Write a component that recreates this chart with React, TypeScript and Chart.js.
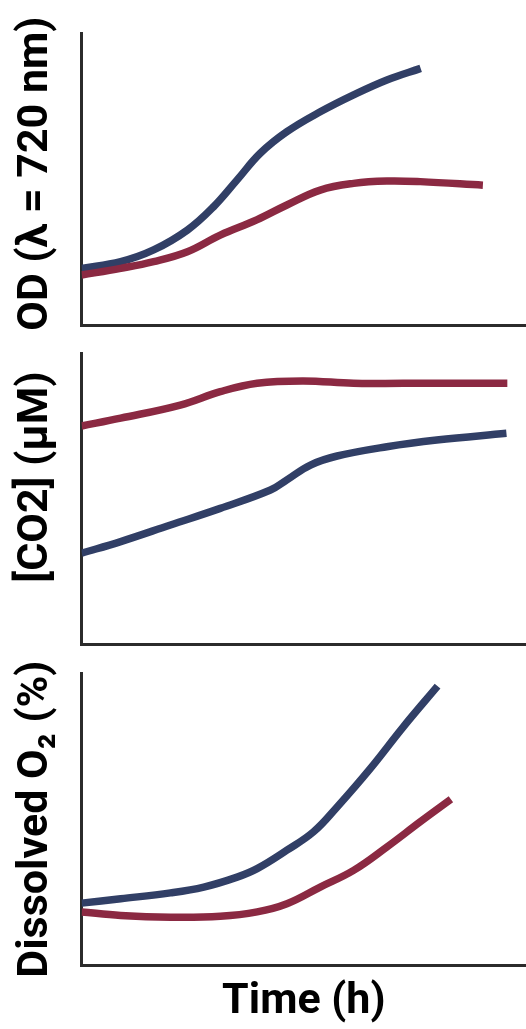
import React, { useEffect, useRef } from "react";
import { Chart, registerables } from "chart.js";

Chart.register(...registerables);

const BLUE = "#313f66";
const RED = "#8b2942";
const AXIS = "#2b2b2b";

// Panel 1: OD
const odBlueT = [0, 8.8, 16.2, 23.8, 29.7, 35.0, 40.2, 46.2, 53.7, 61.2, 68.7, 76.3];
const odBlueV = [19.4, 21.7, 25.7, 32.5, 40.5, 49.7, 58.8, 66.2, 73.0, 78.8, 83.9, 87.9];
const odRedT = [0, 8.8, 16.2, 23.8, 31.2, 39.4, 46.2, 53.7, 61.2, 68.7, 76.2, 90.3];
const odRedV = [17.1, 19.4, 21.7, 25.1, 30.8, 36.0, 41.1, 46.2, 48.5, 49.3, 49.1, 47.9];

// Panel 2: CO2
const co2RedT = [0, 8.8, 22.2, 31.2, 39.5, 49.9, 61.2, 72.4, 95.8];
const co2RedV = [74.9, 77.6, 82.1, 86.7, 89.6, 90.4, 89.6, 89.6, 89.6];
const co2BlueT = [0, 8.8, 20.0, 31.2, 42.5, 46.2, 51.5, 57.5, 68.7, 79.9, 95.6];
const co2BlueV = [31.2, 35.2, 40.9, 46.6, 52.9, 56.4, 61.5, 64.6, 67.8, 70.1, 72.4];

// Panel 3: Dissolved O2
const o2BlueT = [0, 8.8, 20.0, 27.5, 35.0, 39.5, 46.2, 52.2, 57.5, 65.0, 72.4, 80.1];
const o2BlueV = [21.3, 22.8, 24.8, 26.8, 30.2, 33.1, 39.4, 45.7, 54.2, 67.4, 81.6, 95.5];
const o2RedT = [0, 8.8, 20.0, 31.2, 39.5, 46.2, 53.7, 61.2, 68.7, 76.2, 83.1];
const o2RedV = [18.3, 17.1, 16.5, 16.8, 18.3, 21.1, 26.8, 32.5, 40.5, 49.1, 56.8];

const yTitles = [" OD (λ = 720 nm)", "    [CO2] (μM)", "Dissolved O₂ (%)"];
const xTitle = "Time (h)";

const pts = (t: number[], v: number[]) => t.map((x, i) => ({ x, y: v[i] }));

type PanelProps = {
  top: number;
  height: number;
  padTop: number;
  padBottom: number;
  yTitle: string;
  showXTitle: boolean;
  blue: { x: number; y: number }[];
  red: { x: number; y: number }[];
};

const titleFont = { family: "Roboto", size: 43, weight: "bold" as const };

function Panel(p: PanelProps) {
  const ref = useRef<HTMLCanvasElement | null>(null);
  useEffect(() => {
    if (!ref.current) return;
    const ds = (data: { x: number; y: number }[], color: string) => ({
      data,
      borderColor: color,
      backgroundColor: color,
      borderWidth: 7.5,
      pointRadius: 0,
      fill: false,
      tension: 0.4,
      borderCapStyle: "butt" as const,
      borderJoinStyle: "round" as const,
    });
    const chart = new Chart(ref.current, {
      type: "line",
      data: { datasets: [ds(p.red, RED), ds(p.blue, BLUE)] },
      options: {
        responsive: false,
        maintainAspectRatio: false,
        animation: false,
        layout: { padding: { left: 6, right: 0, top: p.padTop, bottom: p.padBottom } },
        plugins: { legend: { display: false }, tooltip: { enabled: false } },
        scales: {
          x: {
            type: "linear",
            min: 0,
            max: 100,
            grid: { display: false, drawTicks: false },
            border: { display: true, color: AXIS, width: 3 },
            ticks: { display: false },
            title: {
              display: p.showXTitle,
              text: xTitle,
              color: "#000",
              font: titleFont,
              padding: { top: 11, bottom: 1 },
            },
          },
          y: {
            type: "linear",
            min: 0,
            max: 100,
            grid: { display: false, drawTicks: false },
            border: { display: true, color: AXIS, width: 3 },
            ticks: { display: false },
            title: {
              display: true,
              text: p.yTitle,
              color: "#000",
              font: titleFont,
              padding: { top: 4, bottom: 20 },
            },
          },
        },
      },
    });
    return () => chart.destroy();
  }, []);
  return (
    <canvas
      ref={ref}
      width={526}
      height={p.height}
      style={{ position: "absolute", left: 0, top: p.top, width: 526, height: p.height, display: "block" }}
    />
  );
}

export default function App() {
  return (
    <div style={{ position: "absolute", left: 0, top: 0, width: 526, height: 1029, background: "#fff" }}>
      <Panel top={0} height={340} padTop={33} padBottom={15} yTitle={yTitles[0]} showXTitle={false}
        blue={pts(odBlueT, odBlueV)} red={pts(odRedT, odRedV)} />
      <Panel top={340} height={310} padTop={13} padBottom={6} yTitle={yTitles[1]} showXTitle={false}
        blue={pts(co2BlueT, co2BlueV)} red={pts(co2RedT, co2RedV)} />
      <Panel top={660} height={369} padTop={13} padBottom={0} yTitle={yTitles[2]} showXTitle={true}
        blue={pts(o2BlueT, o2BlueV)} red={pts(o2RedT, o2RedV)} />
    </div>
  );
}
